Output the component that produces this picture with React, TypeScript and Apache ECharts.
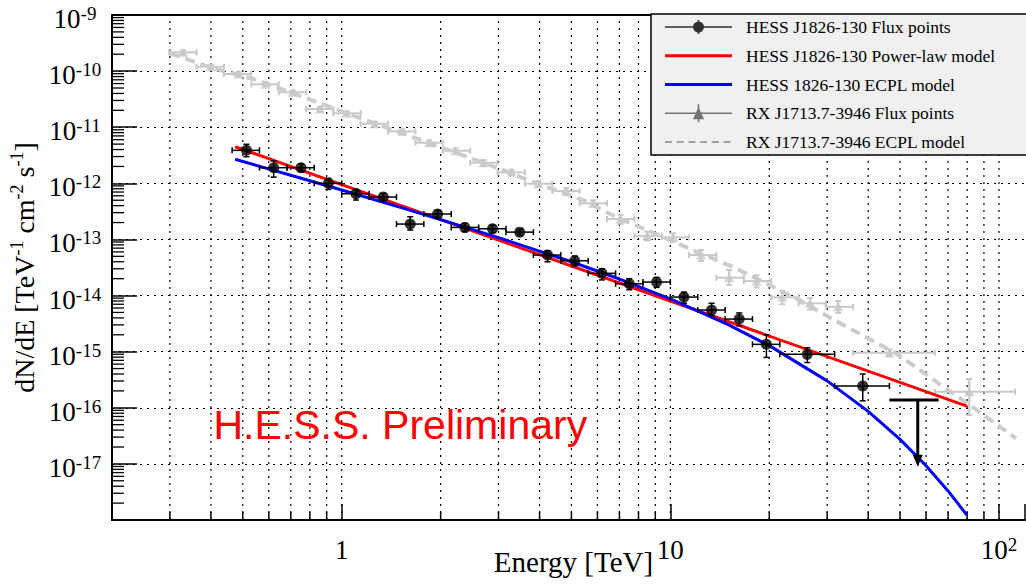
import React, { useEffect, useRef } from 'react';
import * as echarts from 'echarts';

const X_MIN = 0.2;
const X_MAX = 120;
const Y_MIN = 1e-18;
const Y_MAX = 1e-9;

// HESS J1826-130 flux points (energy in TeV, flux in TeV^-1 cm^-2 s^-1)
const hessE = [0.513, 0.621, 0.752, 0.911, 1.105, 1.338, 1.616, 1.958, 2.37, 2.877, 3.48, 4.23, 5.12, 6.19, 7.5, 9.08, 11.0, 13.35, 16.2, 19.6, 26.1, 38.5];
const hessF = [3.87e-12, 1.9e-12, 1.9e-12, 1.0e-12, 6.53e-13, 5.7e-13, 1.88e-13, 2.84e-13, 1.64e-13, 1.55e-13, 1.35e-13, 5.27e-14, 4.17e-14, 2.49e-14, 1.62e-14, 1.74e-14, 9.4e-15, 5.52e-15, 3.81e-15, 1.35e-15, 8.95e-16, 2.44e-16];
const hessFHigh = [4.96e-12, 2.5e-12, 2.2e-12, 1.23e-12, 7.8e-13, 6.6e-13, 2.54e-13, 3.3e-13, 1.94e-13, 1.8e-13, 1.5e-13, 6.3e-14, 5.06e-14, 3.0e-14, 2.0e-14, 2.1e-14, 1.15e-14, 7.3e-15, 4.9e-15, 2.0e-15, 1.17e-15, 4.0e-16];
const hessFLow = [2.98e-12, 1.29e-12, 1.62e-12, 7.8e-13, 5.04e-13, 4.9e-13, 1.47e-13, 2.45e-13, 1.37e-13, 1.32e-13, 1.2e-13, 4.0e-14, 3.36e-14, 1.9e-14, 1.27e-14, 1.4e-14, 7.3e-15, 4.4e-15, 2.9e-15, 7.9e-16, 6.4e-16, 1.33e-16];
const hessELow = [0.464, 0.562, 0.681, 0.825, 1.0, 1.212, 1.468, 1.778, 2.154, 2.61, 3.162, 3.831, 4.642, 5.623, 6.813, 8.254, 10.0, 12.12, 14.68, 17.78, 21.54, 31.62];
const hessEHigh = [0.562, 0.681, 0.825, 1.0, 1.212, 1.468, 1.778, 2.154, 2.61, 3.162, 3.831, 4.642, 5.623, 6.813, 8.254, 10.0, 12.12, 14.68, 17.78, 21.54, 31.62, 46.42];

// HESS J1826-130 upper limit
const ulE = [56.6];
const ulF = [1.37e-16];
const ulELow = [46.4];
const ulEHigh = [65.5];
const ulTipF = [8.9e-18];

// RX J1713.7-3946 flux points
const rxE = [0.329, 0.4, 0.485, 0.588, 0.71, 0.859, 1.035, 1.262, 1.528, 1.846, 2.22, 2.7, 3.29, 3.97, 4.82, 5.82, 7.05, 8.51, 10.2, 12.4, 15.1, 18.3, 21.9, 26.6, 32.4, 46.4, 81.2];
const rxF = [2.16e-10, 1.2e-10, 8.88e-11, 5.82e-11, 4.19e-11, 2.11e-11, 1.77e-11, 1.15e-11, 8.44e-12, 5.3e-12, 3.81e-12, 2.33e-12, 1.57e-12, 9.84e-13, 7.29e-13, 4.4e-13, 2.31e-13, 1.16e-13, 1.09e-13, 5.27e-14, 2.08e-14, 1.81e-14, 9.29e-15, 7.26e-15, 6.3e-15, 9.57e-16, 1.93e-16];
const rxFHigh = [2.35e-10, 1.3e-10, 9.6e-11, 6.3e-11, 4.5e-11, 2.3e-11, 1.9e-11, 1.25e-11, 9.2e-12, 5.8e-12, 4.2e-12, 2.6e-12, 1.75e-12, 1.1e-12, 8.2e-13, 5.0e-13, 2.75e-13, 1.38e-13, 1.28e-13, 6.5e-14, 2.85e-14, 2.3e-14, 1.2e-14, 9.0e-15, 8.0e-15, 1.1e-15, 3.25e-16];
const rxFLow = [1.98e-10, 1.1e-10, 8.2e-11, 5.4e-11, 3.9e-11, 1.95e-11, 1.65e-11, 1.06e-11, 7.7e-12, 4.8e-12, 3.4e-12, 2.05e-12, 1.4e-12, 8.7e-13, 6.4e-13, 3.85e-13, 1.9e-13, 9.6e-14, 9.1e-14, 4.1e-14, 1.54e-14, 1.4e-14, 7.0e-15, 5.6e-15, 4.9e-15, 8.3e-16, 7.4e-17];
const rxELow = [0.2986, 0.3616, 0.438, 0.5306, 0.6427, 0.7785, 0.9431, 1.142, 1.384, 1.676, 2.031, 2.46, 2.98, 3.609, 4.372, 5.296, 6.415, 7.771, 9.414, 11.4, 13.81, 16.73, 20.27, 24.55, 29.74, 36.0, 63.8];
const rxEHigh = [0.3616, 0.438, 0.5306, 0.6427, 0.7785, 0.9431, 1.142, 1.384, 1.676, 2.031, 2.46, 2.98, 3.609, 4.372, 5.296, 6.415, 7.771, 9.414, 11.4, 13.81, 16.73, 20.27, 24.55, 29.74, 36.0, 63.8, 112];

// Models
const plE = [0.474, 1, 10, 79.9];
const plF = [4.49e-12, 9.5e-13, 8.0e-15, 1.07e-16];
const ecplE = [0.474, 0.7, 1, 1.5, 2, 3, 5, 7, 10, 15, 20, 30, 40, 50, 60, 70, 79.9];
const ecplF = [2.68e-12, 1.39e-12, 7.59e-13, 3.76e-13, 2.26e-13, 1.08e-13, 4.0e-14, 1.97e-14, 8.71e-15, 3.03e-15, 1.28e-15, 3.02e-16, 8.62e-17, 2.74e-17, 9.28e-18, 3.3e-18, 1.22e-18];
const rxModelE = [0.3006, 0.4071, 0.5515, 0.7826, 1.036, 1.435, 1.855, 2.987, 3.915, 5.425, 6.855, 9.72, 11.99, 15.5, 19.58, 24.7, 28.4, 35.9, 48.6, 61.4, 77.5, 91.3, 112.6];
const rxModelF = [2.077e-10, 1.122e-10, 6.94e-11, 3.28e-11, 1.77e-11, 8.92e-12, 5.16e-12, 1.875e-12, 1.0e-12, 5.04e-13, 2.5e-13, 1.046e-13, 6.04e-14, 3.26e-14, 1.65e-14, 8.32e-15, 5.14e-15, 2.43e-15, 9.33e-16, 3.57e-16, 1.37e-16, 6.92e-17, 2.85e-17];

// Grid / tick values
const xGridE = [0.3, 0.4, 0.5, 0.6, 0.7, 0.8, 0.9, 1, 2, 3, 4, 5, 6, 7, 8, 9, 10, 20, 30, 40, 50, 60, 70, 80, 90, 100];
const xMinorTickE = [0.3, 0.4, 0.5, 0.6, 0.7, 0.8, 0.9, 2, 3, 4, 5, 6, 7, 8, 9, 20, 30, 40, 50, 60, 70, 80, 90];
const yDecades = [-18, -17, -16, -15, -14, -13, -12, -11, -10];
const yMantissas = [2, 3, 4, 5, 6, 7, 8, 9];

const SERIF = 'Liberation Serif';

const LEG_FLUX = 'HESS J1826-130 Flux points';
const LEG_PL = 'HESS J1826-130 Power-law model';
const LEG_ECPL = 'HESS 1826-130 ECPL model';
const LEG_RX = 'RX J1713.7-3946 Flux points';
const LEG_RXM = 'RX J1713.7-3946 ECPL model';

const BOX = ' M0 0H0.01V0.01H0Z M66.99 19.99H67V20H66.99Z';
const ICON_FLUX = 'path://M0 9.2H67V10.8H0Z M32.7 3H34.3V17H32.7Z M28 10A5.5 5.5 0 1 1 39 10A5.5 5.5 0 1 1 28 10Z' + BOX;
const ICON_RX = 'path://M0 9.2H67V10.8H0Z M32.7 1H34.3V19H32.7Z M33.5 3.5L39 16L28 16Z' + BOX;
const ICON_LINE = 'path://M0 8.5H67V11.5H0Z' + BOX;
const ICON_DASH = 'path://M0 9.3H7V10.7H0Z M11.7 9.3H18.7V10.7H11.7Z M23.4 9.3H30.4V10.7H23.4Z M35.1 9.3H42.1V10.7H35.1Z M46.8 9.3H53.8V10.7H46.8Z M58.5 9.3H65.5V10.7H58.5Z' + BOX;

function decadeOf(v: number): number | null {
  const l = Math.log10(v);
  const n = Math.round(l);
  return Math.abs(l - n) < 1e-6 ? n : null;
}

function errorBars(color: string, lw: number, cap: number) {
  return (_p: any, api: any) => {
    const c = api.coord([api.value(0), api.value(1)]);
    const l = api.coord([api.value(2), api.value(1)]);
    const r = api.coord([api.value(3), api.value(1)]);
    const t = api.coord([api.value(0), api.value(4)]);
    const b = api.coord([api.value(0), api.value(5)]);
    const style = { stroke: color, lineWidth: lw, fill: null };
    return {
      type: 'group',
      children: [
        { type: 'line', shape: { x1: l[0], y1: c[1], x2: r[0], y2: c[1] }, style },
        { type: 'line', shape: { x1: l[0], y1: c[1] - cap, x2: l[0], y2: c[1] + cap }, style },
        { type: 'line', shape: { x1: r[0], y1: c[1] - cap, x2: r[0], y2: c[1] + cap }, style },
        { type: 'line', shape: { x1: c[0], y1: t[1], x2: c[0], y2: b[1] }, style },
        { type: 'line', shape: { x1: c[0] - cap, y1: t[1], x2: c[0] + cap, y2: t[1] }, style },
        { type: 'line', shape: { x1: c[0] - cap, y1: b[1], x2: c[0] + cap, y2: b[1] }, style },
      ],
    };
  };
}

function buildOption(): any {
  const yMinorF = yDecades.flatMap((d) => yMantissas.map((m) => m * Math.pow(10, d)));
  const labelRich = {
    b: { fontFamily: SERIF, fontSize: 27, lineHeight: 30, color: '#000' },
    s: { fontFamily: SERIF, fontSize: 19, lineHeight: 16, verticalAlign: 'top', color: '#000' },
  };
  return {
    animation: false,
    backgroundColor: '#ffffff',
    grid: { left: 112, top: 15, right: 1, bottom: 64, containLabel: false, outerBoundsMode: 'none' },
    xAxis: [
      {
        type: 'log',
        logBase: 10,
        min: X_MIN,
        max: X_MAX,
        name: 'Energy [TeV]',
        nameLocation: 'middle',
        nameGap: 27,
        nameMoveOverlap: false,
        nameTextStyle: { fontFamily: SERIF, fontSize: 29, color: '#000', padding: [0, 0, 0, 10] },
        axisLine: { show: true, onZero: false, lineStyle: { color: '#000', width: 2 } },
        axisTick: { show: true, inside: true, length: 16, lineStyle: { color: '#000', width: 1.5 } },
        axisLabel: {
          margin: 15,
          formatter: (v: number) => {
            const n = decadeOf(v);
            if (n === null) return '';
            if (n === 0) return '{b|1}';
            if (n === 1) return '{b|10}';
            return '{b|10}{s|' + n + '}';
          },
          rich: labelRich,
        },
        splitLine: { show: false },
      },
      {
        type: 'log',
        logBase: 10,
        min: X_MIN,
        max: X_MAX,
        position: 'top',
        axisLine: { show: true, onZero: false, lineStyle: { color: '#000', width: 2 } },
        axisTick: { show: false },
        axisLabel: { show: false },
        splitLine: { show: false },
      },
    ],
    yAxis: {
      type: 'log',
      logBase: 10,
      min: Y_MIN,
      max: Y_MAX,
      name: '{b|dN/dE [TeV}{s|-1}{b| cm}{s|-2}{b| s}{s|-1}{b|]}',
      nameLocation: 'middle',
      nameRotate: 90,
      nameGap: 72,
      nameMoveOverlap: false,
      nameTextStyle: {
        rich: {
          b: { fontFamily: SERIF, fontSize: 28, lineHeight: 32, color: '#000' },
          s: { fontFamily: SERIF, fontSize: 18, lineHeight: 16, verticalAlign: 'top', color: '#000' },
        },
      },
      axisLine: { show: true, onZero: false, lineStyle: { color: '#000', width: 2 } },
      axisTick: { show: true, inside: true, length: 25, lineStyle: { color: '#000', width: 1.5 } },
      axisLabel: {
        margin: 37,
        align: 'center',
        padding: [8, 0, 0, 0],
        formatter: (v: number) => {
          const n = decadeOf(v);
          if (n === null || n === -18) return '';
          return '{b|10}{s|' + n + '}';
        },
        rich: labelRich,
      },
      splitLine: { show: true, lineStyle: { color: '#000', width: 1.2, type: [2, 5] } },
    },
    legend: {
      orient: 'vertical',
      left: 651,
      top: 14,
      padding: [3, 60, 3, 14],
      itemGap: 8.75,
      itemWidth: 67,
      itemHeight: 20,
      symbolKeepAspect: false,
      selectedMode: false,
      backgroundColor: '#f0f0f0',
      borderColor: '#000',
      borderWidth: 1.5,
      borderRadius: 0,
      z: 10,
      itemStyle: { borderWidth: 0 },
      textStyle: { fontFamily: SERIF, fontSize: 17.5, color: '#000', lineHeight: 20, padding: [0, 0, 0, 9] },
      data: [
        { name: LEG_FLUX, icon: ICON_FLUX, itemStyle: { color: '#000', borderWidth: 0 } },
        { name: LEG_PL, icon: ICON_LINE, itemStyle: { color: '#ff0000', borderWidth: 0 } },
        { name: LEG_ECPL, icon: ICON_LINE, itemStyle: { color: '#0000ff', borderWidth: 0 } },
        { name: LEG_RX, icon: ICON_RX, itemStyle: { color: '#555555', borderWidth: 0 } },
        { name: LEG_RXM, icon: ICON_DASH, itemStyle: { color: '#888888', borderWidth: 0 } },
      ],
    },
    graphic: [
      {
        type: 'text',
        x: 213.5,
        y: 425,
        z: 20,
        style: {
          text: 'H.E.S.S. Preliminary',
          fill: '#ff0000',
          fontSize: 41,
          fontFamily: 'Liberation Sans',
          align: 'left',
          verticalAlign: 'middle',
        },
      },
    ],
    series: [
      {
        name: 'xGrid',
        type: 'custom',
        silent: true,
        z: 1,
        data: xGridE.map((e) => [e, Y_MIN]),
        renderItem: (_p: any, api: any) => {
          const a = api.coord([api.value(0), Y_MIN]);
          const b = api.coord([api.value(0), Y_MAX]);
          return {
            type: 'line',
            shape: { x1: a[0], y1: a[1], x2: b[0], y2: b[1] },
            style: { stroke: '#000', lineWidth: 1.2, lineDash: [2, 5] },
          };
        },
      },
      {
        name: 'xMinorTicks',
        type: 'custom',
        silent: true,
        z: 3,
        data: xMinorTickE.map((e) => [e, Y_MIN]),
        renderItem: (_p: any, api: any) => {
          const a = api.coord([api.value(0), Y_MIN]);
          return {
            type: 'line',
            shape: { x1: a[0], y1: a[1], x2: a[0], y2: a[1] - 8 },
            style: { stroke: '#000', lineWidth: 1.5 },
          };
        },
      },
      {
        name: 'yMinorTicks',
        type: 'custom',
        silent: true,
        z: 3,
        data: yMinorF.map((f) => [X_MIN, f]),
        renderItem: (_p: any, api: any) => {
          const a = api.coord([X_MIN, api.value(1)]);
          return {
            type: 'line',
            shape: { x1: a[0], y1: a[1], x2: a[0] + 12, y2: a[1] },
            style: { stroke: '#000', lineWidth: 1.3 },
          };
        },
      },
      {
        name: LEG_RXM,
        type: 'line',
        z: 2,
        symbol: 'none',
        data: rxModelE.map((e, i) => [e, rxModelF[i]]),
        lineStyle: { color: '#cccccc', width: 4, type: [10, 6] },
        itemStyle: { color: '#cccccc' },
      },
      {
        name: 'rxErrors',
        type: 'custom',
        silent: true,
        z: 2,
        data: rxE.map((e, i) => [e, rxF[i], rxELow[i], rxEHigh[i], rxFHigh[i], rxFLow[i]]),
        renderItem: errorBars('#c8c8c8', 2, 3),
      },
      {
        name: LEG_RX,
        type: 'scatter',
        z: 3,
        symbol: 'triangle',
        symbolSize: [10, 9],
        data: rxE.map((e, i) => [e, rxF[i]]),
        itemStyle: { color: '#c8c8c8' },
      },
      {
        name: LEG_PL,
        type: 'line',
        z: 4,
        symbol: 'none',
        data: plE.map((e, i) => [e, plF[i]]),
        lineStyle: { color: '#ff0000', width: 3 },
        itemStyle: { color: '#ff0000' },
      },
      {
        name: LEG_ECPL,
        type: 'line',
        z: 4,
        symbol: 'none',
        data: ecplE.map((e, i) => [e, ecplF[i]]),
        lineStyle: { color: '#0000ff', width: 3 },
        itemStyle: { color: '#0000ff' },
      },
      {
        name: 'hessErrors',
        type: 'custom',
        silent: true,
        z: 5,
        data: hessE.map((e, i) => [e, hessF[i], hessELow[i], hessEHigh[i], hessFHigh[i], hessFLow[i]]),
        renderItem: errorBars('#000', 1.5, 3),
      },
      {
        name: 'hessUpperLimit',
        type: 'custom',
        silent: true,
        z: 5,
        data: ulE.map((e, i) => [e, ulF[i], ulELow[i], ulEHigh[i], ulTipF[i]]),
        renderItem: (_p: any, api: any) => {
          const c = api.coord([api.value(0), api.value(1)]);
          const l = api.coord([api.value(2), api.value(1)]);
          const r = api.coord([api.value(3), api.value(1)]);
          const tip = api.coord([api.value(0), api.value(4)]);
          const st = { stroke: '#000', lineWidth: 3 };
          return {
            type: 'group',
            children: [
              { type: 'line', shape: { x1: l[0], y1: c[1], x2: r[0], y2: c[1] }, style: st },
              { type: 'line', shape: { x1: c[0], y1: c[1], x2: c[0], y2: tip[1] - 8 }, style: st },
              {
                type: 'polygon',
                shape: { points: [[c[0] - 5, tip[1] - 12], [c[0] + 5, tip[1] - 12], [c[0], tip[1]]] },
                style: { fill: '#000' },
              },
            ],
          };
        },
      },
      {
        name: LEG_FLUX,
        type: 'scatter',
        z: 6,
        symbol: 'circle',
        symbolSize: 11,
        data: hessE.map((e, i) => [e, hessF[i]]),
        itemStyle: { color: '#000' },
      },
    ],
  };
}

export default function App() {
  const ref = useRef<HTMLDivElement>(null);
  useEffect(() => {
    if (!ref.current) return;
    const chart = echarts.init(ref.current, undefined, { renderer: 'svg' });
    chart.setOption(buildOption());
    return () => chart.dispose();
  }, []);
  return (
    <div
      ref={ref}
      style={{ position: 'absolute', left: 0, top: 0, width: 1026, height: 584, background: '#fff' }}
    />
  );
}
